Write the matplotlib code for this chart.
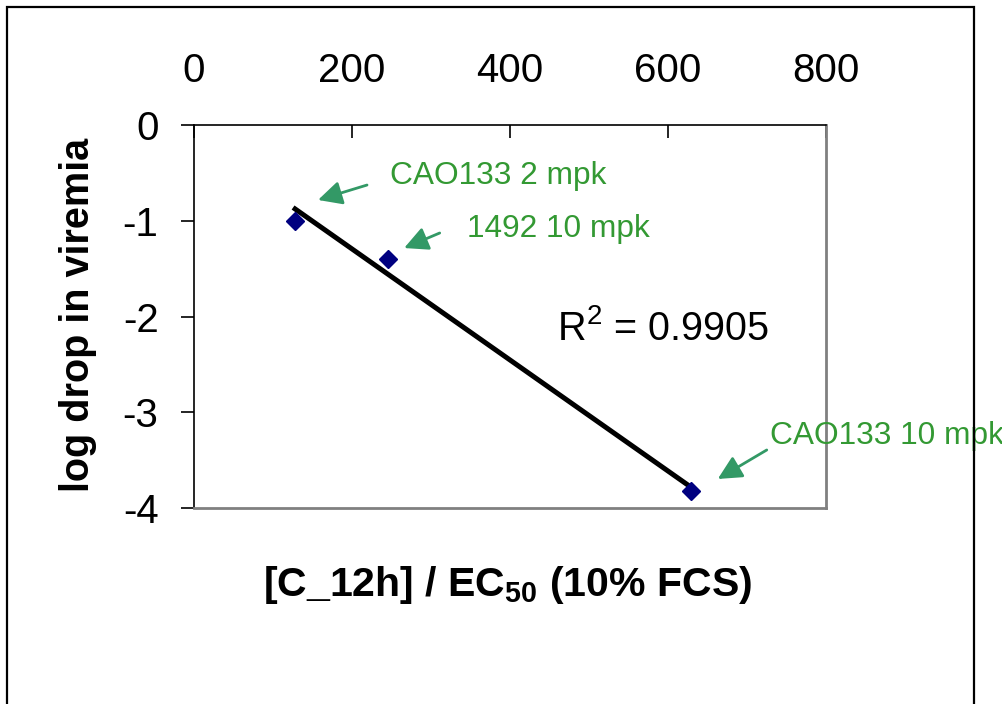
import numpy as np
import matplotlib.pyplot as plt
from matplotlib.patches import Rectangle

plt.rcParams['font.family'] = 'Liberation Sans'
plt.rcParams['mathtext.fontset'] = 'custom'
plt.rcParams['mathtext.rm'] = 'Liberation Sans'
plt.rcParams['mathtext.bf'] = 'Liberation Sans:bold'

# data
ratio = [128, 246, 629]          # [C_12h] / EC50
log_drop = [-1.0, -1.4, -3.82]   # log drop in viremia
labels = ["CAO133 2 mpk", "1492 10 mpk", "CAO133 10 mpk"]
x_ticks = [0, 200, 400, 600, 800]
y_ticks = [0, -1, -2, -3, -4]

W, H = 1003, 704
fig = plt.figure(figsize=(W / 100, H / 100), dpi=100)
ax = fig.add_axes([194 / W, 1 - 508 / H, (826 - 194) / W, (508 - 125) / H])

# outer frame of the slide
fig.patches.append(Rectangle((7 / W, -0.05), (974 - 7) / W, 1.05 - 7 / H,
                             transform=fig.transFigure, fill=False,
                             edgecolor="black", linewidth=1.6))

# trendline (linear fit)
slope, icpt = np.polyfit(ratio, log_drop, 1)
xs = np.array([min(ratio), max(ratio)])
ax.plot(xs, slope * xs + icpt, color="black", linewidth=3.6, zorder=2)

ax.plot(ratio, log_drop, linestyle="none", marker="D", markersize=9,
        color="#000080", zorder=3)

ax.set_xlim(0, 800)
ax.set_ylim(-4, 0)
ax.set_xticks(x_ticks)
ax.set_yticks(y_ticks)
ax.set_yticklabels([str(v) for v in y_ticks])
ax.xaxis.tick_top()
ax.tick_params(axis="x", direction="in", length=9.5, width=1.2, pad=25,
               labelsize=29, color="black")
ax.tick_params(axis="y", direction="out", length=9.5, width=1.2, pad=16,
               labelsize=29, color="black")

for s in ["top", "left"]:
    ax.spines[s].set_color("black")
    ax.spines[s].set_linewidth(1.2)
for s in ["right", "bottom"]:
    ax.spines[s].set_color("#808080")
    ax.spines[s].set_linewidth(2)

fig.text(508 / W, 1 - 585 / H, r"[C_12h] / EC$_{\mathbf{50}}$ (10% FCS)",
         fontsize=29.5, fontweight="bold", ha="center", va="center")
fig.text(78 / W, 1 - 315 / H, "log drop in viremia", fontsize=28.5,
         fontweight="bold", rotation=90, ha="center", va="center")

ax.text(459, -2.13, r"R$^2$ = 0.9905", fontsize=28.5, ha="left", va="center")

# annotation positions (text, arrow tail, arrow head)
text_pos = [(248, -0.533), (346, -1.086), (729, -3.248)]
tails = [(219, -0.627), (311, -1.128), (725, -3.394)]
heads = [(157, -0.783), (266, -1.285), (663, -3.697)]
for lab, tp, t, h in zip(labels, text_pos, tails, heads):
    ax.text(tp[0], tp[1], lab, fontsize=22.8, color="#339933",
            ha="left", va="center", clip_on=False)
    ax.annotate("", xy=h, xytext=t, annotation_clip=False,
                arrowprops=dict(arrowstyle="-|>", color="#339966", lw=2,
                                mutation_scale=36, shrinkA=0, shrinkB=0))

fig.savefig("out.png", dpi=100)
